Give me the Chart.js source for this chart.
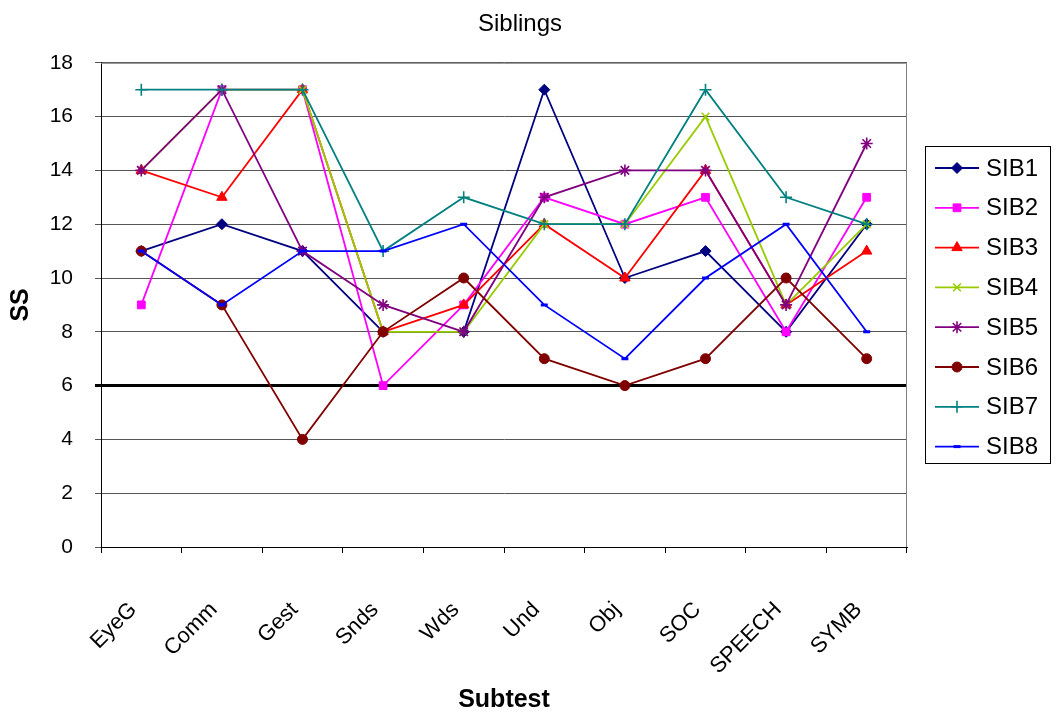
<!DOCTYPE html>
<html>
<head>
<meta charset="utf-8">
<script src="https://cdn.jsdelivr.net/npm/chart.js@4.4.1/dist/chart.umd.min.js"></script>
<style>
html,body{margin:0;padding:0;background:#fff;}
#wrap{width:1058px;height:715px;position:relative;}
</style>
</head>
<body>
<div id="wrap"><canvas id="c" width="1058" height="715"></canvas></div>
<script>
const categories = ["EyeG","Comm","Gest","Snds","Wds","Und","Obj","SOC","SPEECH","SYMB"];
const seriesNames = ["SIB1","SIB2","SIB3","SIB4","SIB5","SIB6","SIB7","SIB8"];
const SIB1 = [11,12,11,8,8,17,10,11,8,12];
const SIB2 = [9,17,17,6,9,13,12,13,8,13];
const SIB3 = [14,13,17,8,9,12,10,14,9,11];
const SIB4 = [14,17,17,8,8,12,12,16,9,12];
const SIB5 = [14,17,11,9,8,13,14,14,9,15];
const SIB6 = [11,9,4,8,10,7,6,7,10,7];
const SIB7 = [17,17,17,11,13,12,12,17,13,12];
const SIB8 = [11,9,11,11,12,9,7,10,12,8];
const yTicks = [0,2,4,6,8,10,12,14,16,18];
const cutoffValue = 6;

const seriesValues = [SIB1,SIB2,SIB3,SIB4,SIB5,SIB6,SIB7,SIB8];
const colors = ["#000080","#FF00FF","#FF0000","#99CC00","#800080","#800000","#008080","#0000FF"];
const styles = ["rectRot","rect","triangle","crossRot","star","circle","cross","line"];
const radii = [5.5,5.5,6,5.5,6,5,6,3.5];
const pbw = [1,1,1,1.6,1.6,1,1.6,3];

const FONT = "'Liberation Sans', Arial, sans-serif";

const datasets = seriesNames.map((n,i)=>({
  label:n,
  data:seriesValues[i],
  borderColor:colors[i],
  backgroundColor:colors[i],
  borderWidth:1.8,
  pointStyle:styles[i],
  pointRadius:radii[i],
  pointHoverRadius:radii[i],
  pointBorderWidth:pbw[i],
  pointBackgroundColor:colors[i],
  pointBorderColor:colors[i],
  tension:0,
  fill:false,
  yAxisID:'y',
  order:seriesNames.length - i
}));

const framePlugin = {
  id:'frame',
  beforeDatasetsDraw(chart){
    const a = chart.chartArea, ctx = chart.ctx;
    ctx.save();
    ctx.strokeStyle = '#808080';
    ctx.lineWidth = 1;
    ctx.beginPath();
    ctx.moveTo(a.left, a.top+0.5);
    ctx.lineTo(a.right-0.5, a.top+0.5);
    ctx.lineTo(a.right-0.5, a.bottom);
    ctx.stroke();
    ctx.restore();
  }
};

const legendPlugin = {
  id:'sideLegend',
  afterDraw(chart){
    const ctx = chart.ctx;
    const bx = 925.5, by = 146.5, bw = 125, bh = 317;
    ctx.save();
    ctx.fillStyle = '#fff';
    ctx.fillRect(bx,by,bw,bh);
    ctx.strokeStyle = '#000';
    ctx.lineWidth = 1;
    ctx.strokeRect(bx,by,bw,bh);
    const y0 = 168, step = 39.8;
    chart.data.datasets.forEach((ds,i)=>{
      const y = y0 + i*step;
      ctx.strokeStyle = ds.borderColor;
      ctx.lineWidth = 1.8;
      ctx.beginPath();
      ctx.moveTo(935,y); ctx.lineTo(979,y); ctx.stroke();
      ctx.fillStyle = ds.pointBackgroundColor;
      ctx.strokeStyle = ds.pointBorderColor;
      ctx.lineWidth = ds.pointBorderWidth;
      Chart.helpers.drawPoint(ctx,{pointStyle:ds.pointStyle,radius:ds.pointRadius,rotation:0,borderWidth:ds.pointBorderWidth},957,y);
      ctx.fillStyle = '#000';
      ctx.font = "24px " + FONT;
      ctx.textBaseline = 'middle';
      ctx.textAlign = 'left';
      ctx.fillText(ds.label, 986, y+1);
    });
    ctx.restore();
  }
};

new Chart(document.getElementById('c'),{
  type:'line',
  data:{labels:categories,datasets},
  plugins:[framePlugin,legendPlugin],
  options:{
    responsive:false,
    animation:false,
    devicePixelRatio:1,
    layout:{padding:{left:0,right:18,top:0,bottom:0}},
    plugins:{
      legend:{display:false},
      tooltip:{enabled:false},
      title:{display:true,text:'Siblings',color:'#000',font:{family:FONT,size:24,weight:'normal'},padding:{top:10,bottom:24}}
    },
    scales:{
      x:{
        type:'category',
        offset:true,
        afterFit(s){ s.height = 168; },
        grid:{display:true,offset:true,drawOnChartArea:false,drawTicks:true,tickLength:6,color:'#000',lineWidth:1},
        border:{display:true,color:'#000',width:1},
        ticks:{autoSkip:false,minRotation:45,maxRotation:45,labelOffset:-8,padding:44,color:'#000',font:{family:FONT,size:22}},
        title:{display:true,text:'Subtest',color:'#000',font:{family:FONT,size:25,weight:'bold'},padding:{top:0,bottom:0}}
      },
      y:{
        min:0,max:18,
        afterFit(s){ s.width = 101; },
        afterBuildTicks(s){ s.ticks = yTicks.map(v=>({value:v})); },
        grid:{
          color:(c)=> c.tick && c.tick.value===cutoffValue ? '#000' : '#555',
          lineWidth:(c)=> c.tick && c.tick.value===cutoffValue ? 3 : 1,
          tickLength:6
        },
        border:{display:true,color:'#000',width:1},
        ticks:{color:'#000',padding:22,font:{family:FONT,size:21}},
        title:{display:true,text:'SS',color:'#000',font:{family:FONT,size:25,weight:'bold'},padding:{top:6,bottom:0}}
      },
      legendSpace:{
        type:'linear',
        position:'right',
        display:true,
        afterFit(s){ s.width = 133; },
        grid:{display:false,drawOnChartArea:false,drawTicks:false},
        border:{display:false},
        ticks:{display:false},
        title:{display:false}
      }
    }
  }
});
</script>
</body>
</html>
